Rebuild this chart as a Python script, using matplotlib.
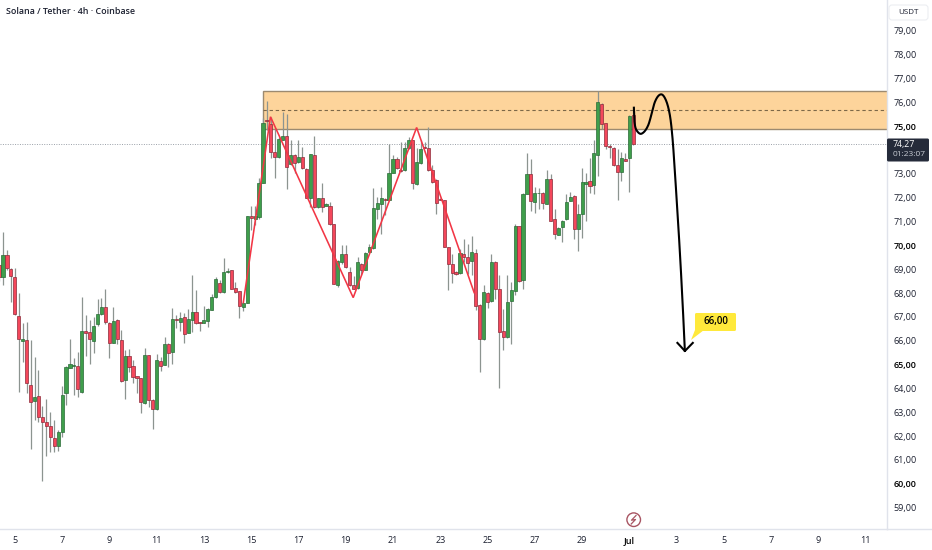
import matplotlib
matplotlib.use("Agg")
import matplotlib.pyplot as plt
import numpy as np
from matplotlib.patches import Circle, FancyBboxPatch, Polygon, Rectangle

plt.rcParams['font.family'] = ['Open Sans', 'DejaVu Sans']

# Candles, 4h, first one is cut by the left edge
opens = [69.18,68.69,69.60,69.03,68.69,67.05,65.97,66.03,64.13,63.48,
         63.69,62.82,62.61,62.43,61.91,61.59,62.15,63.79,64.84,64.94,
         64.94,63.85,66.39,66.35,65.97,66.70,67.14,67.43,66.73,65.92,
         66.87,66.03,64.36,65.36,64.95,64.50,64.43,63.37,65.40,63.51,
         63.12,65.15,64.99,65.85,65.53,66.90,66.80,66.98,66.34,66.87,
         67.22,66.77,66.76,66.83,67.30,67.85,68.44,68.05,68.89,68.96,
         68.21,68.09,67.40,67.60,71.23,71.13,71.19,72.63,75.26,75.08,
         73.92,73.71,74.42,74.60,73.40,73.79,73.50,73.73,73.22,71.97,
         73.79,71.61,72.00,71.66,71.65,70.91,68.36,69.31,69.62,68.88,
         68.36,68.22,69.24,68.97,69.73,69.91,71.55,71.72,71.94,71.91,
         73.06,73.61,73.17,73.16,74.07,74.42,72.56,73.45,74.13,74.11,
         73.16,72.75,71.94,71.90,69.95,69.21,68.89,68.85,69.66,69.53,
         69.35,69.69,67.50,66.08,68.02,67.67,69.32,68.19,66.40,66.16,
         67.67,68.08,70.81,68.57,72.17,73.01,71.84,72.21,72.21,71.75,
         72.77,71.09,70.44,70.77,71.09,71.87,72.08,70.67,71.31,72.59,
         72.70,72.53,73.79,75.95,75.12,74.17,74.11,73.37,73.09,73.64,
         73.69,75.47]
closes = [68.66,69.60,69.07,68.72,67.11,66.06,66.06,64.24,63.41,63.62,
          62.78,62.61,62.42,61.97,61.59,62.18,63.72,64.91,65.02,64.98,
          63.96,66.41,66.34,66.06,66.62,67.11,67.43,66.79,65.89,66.84,
          66.09,64.31,65.36,64.91,64.46,64.43,63.41,65.40,63.51,63.13,
          65.19,64.95,65.88,65.50,66.91,66.87,66.95,66.30,66.91,67.19,
          66.76,66.73,66.87,67.33,67.84,68.58,68.05,68.87,68.91,68.19,
          68.06,67.47,67.58,71.23,71.16,71.23,72.63,75.15,75.22,73.93,
          73.71,74.45,74.60,73.30,73.80,73.48,73.73,73.23,72.00,73.82,
          71.62,71.97,71.61,71.75,70.91,68.40,69.35,69.66,69.10,68.33,
          68.19,69.31,68.99,69.69,69.95,71.56,71.76,71.97,71.89,73.06,
          73.61,73.23,73.12,74.07,74.42,72.63,73.51,74.04,74.10,73.15,
          72.67,71.80,71.89,69.95,69.24,68.85,68.81,69.70,69.52,69.28,
          69.74,67.45,66.09,68.05,67.63,69.32,68.16,66.37,66.16,67.64,
          68.11,70.81,68.50,72.17,73.01,71.87,72.22,72.22,71.79,72.77,
          71.03,70.50,70.74,71.02,71.84,72.04,70.70,71.30,72.66,72.68,
          72.49,73.86,76.00,75.09,74.18,74.14,73.36,73.08,73.66,73.55,
          75.43,74.27]
highs = [69.20,70.58,69.81,69.04,69.04,68.02,66.73,66.77,66.03,65.33,
         64.77,63.26,63.54,63.00,62.67,62.25,64.11,64.95,66.06,65.26,
         65.51,67.85,67.08,66.87,67.01,67.75,67.78,68.16,66.80,67.40,
         66.90,66.45,65.61,65.64,65.19,64.52,64.43,65.68,65.40,63.55,
         65.43,65.33,66.14,65.89,67.36,67.08,67.19,67.18,67.32,68.76,
         68.13,66.80,67.46,67.36,67.95,68.66,68.55,69.49,69.07,68.96,
         68.48,68.10,67.64,71.24,71.66,71.66,72.81,75.33,76.06,75.40,
         74.91,74.56,75.58,75.50,74.42,73.82,74.42,74.14,73.23,73.82,
         74.59,72.00,72.60,71.76,71.83,70.91,69.38,70.01,70.01,69.10,
         68.72,69.52,69.27,69.73,70.08,72.42,72.04,72.46,71.97,74.24,
         73.79,73.72,74.35,74.35,74.56,74.42,74.07,74.42,74.35,74.95,
         73.37,72.78,71.97,71.90,69.95,69.66,68.92,69.87,70.26,70.04,
         70.40,69.87,67.56,68.36,68.05,69.62,69.35,68.75,67.32,68.75,
         68.47,70.92,70.81,72.20,73.86,73.62,72.46,72.42,72.25,73.16,
         72.98,71.55,70.78,71.06,72.15,72.25,72.11,71.72,73.27,73.06,
         73.65,74.42,76.48,75.96,75.15,74.24,74.13,74.03,73.93,73.86,
         75.47,75.78]
lows = [68.50,68.34,68.97,67.64,67.08,63.86,65.12,63.79,61.45,62.67,
        62.60,60.12,61.17,61.34,61.34,61.38,61.97,63.30,64.84,63.72,
        63.65,63.82,65.37,65.01,65.47,66.62,67.08,66.70,65.29,65.89,
        65.86,64.28,63.54,64.67,64.24,63.82,62.98,63.34,63.23,62.29,
        63.09,64.74,64.97,64.91,65.02,66.52,66.42,65.92,66.34,66.38,
        66.70,66.42,66.73,66.59,67.29,67.81,68.02,68.02,68.86,68.16,
        68.02,66.94,67.25,67.57,70.64,70.85,71.13,72.60,74.84,73.65,
        72.81,73.68,74.42,72.35,73.37,73.02,73.48,73.20,71.97,71.62,
        71.58,71.59,71.41,71.65,70.85,68.37,68.26,69.24,69.06,68.30,
        68.16,68.19,68.75,68.96,69.70,69.87,71.13,70.46,71.27,71.89,
        73.02,73.20,73.09,73.13,74.04,72.35,72.53,73.43,74.07,73.12,
        72.64,71.33,71.89,69.93,68.15,68.44,68.78,68.82,69.31,68.82,
        68.75,67.28,64.69,66.05,67.38,67.63,67.77,64.02,65.60,66.13,
        65.88,67.94,68.47,68.16,72.14,71.44,71.37,71.52,71.52,71.72,
        71.02,70.25,70.43,70.15,71.06,71.86,70.29,69.77,70.32,71.02,
        72.21,72.14,72.92,74.88,74.04,73.68,73.34,71.90,72.70,73.54,
        72.25,74.21]

# Axis labels
day_labels = ['5', '7', '9', '11', '13', '15', '17', '19', '21', '23', '25',
              '27', '29', 'Jul', '3', '5', '7', '9', '11']
price_ticks = [59, 60, 61, 62, 63, 64, 65, 66, 67, 68, 69, 70, 71, 72, 73, 75,
               76, 77, 78, 79]

# Drawings
zone_start, zone_top, zone_bottom, zone_mid = 66, 76.48, 74.88, 75.68
last_price = 74.27
zigzag_x = [61, 67.9, 88.9, 105, 119.6]
zigzag_y = [67.6, 75.40, 67.81, 74.95, 68.02]
path_x = [160.15, 160.3, 160.8, 162.1, 163.8, 165.5, 167.0, 168.27, 169.28, 169.96, 170.55, 171.15, 171.82, 172.5, 173.09]
path_y = [75.78, 75.19, 74.84, 74.69, 75.05, 76.03, 76.34, 76.10, 75.47, 74.49, 73.09, 71.55, 69.73, 67.63, 65.57]
arrow_x = [171.2, 173.1, 175.1]
arrow_y = [65.91, 65.57, 65.91]

# Styling
up_color = '#3f9e4b'
up_edge = '#2a6b38'
down_color = '#f4475b'
down_edge = '#8c2c3a'
wick_color = '#8c9490'
zone_color = '#fdd49b'
zone_edge = '#9c8a70'
text_color = '#1c2030'
strong_color = '#000000'
line_gray = '#e0e3eb'


def smooth(xs, ys, steps=16):
    # Catmull-Rom through the hand drawn points
    pts = np.column_stack([xs, ys])
    pts = np.vstack([pts[0], pts, pts[-1]])
    out = []
    for k in range(1, len(pts) - 2):
        p0, p1, p2, p3 = pts[k - 1], pts[k], pts[k + 1], pts[k + 2]
        for t in np.linspace(0, 1, steps, endpoint=False):
            out.append(0.5 * (2 * p1 + (p2 - p0) * t
                              + (2 * p0 - 5 * p1 + 4 * p2 - p3) * t ** 2
                              + (3 * p1 - p0 - 3 * p2 + p3) * t ** 3))
    out.append(pts[-1])
    return np.array(out)


fig = plt.figure(figsize=(9.32, 5.5), dpi=100, facecolor='white')
ax = fig.add_axes([0, 21 / 550, 887 / 932, 529 / 550])
ax.set_xlim(-0.76, 224.4)
ax.set_ylim(58.10, 80.30)

# Zone behind the candles
ax.add_patch(Rectangle((zone_start, zone_bottom), 300, zone_top - zone_bottom,
                       facecolor=zone_color, edgecolor=zone_edge, linewidth=1.0, zorder=1))
ax.hlines(zone_mid, zone_start, 300, colors='#7d6848', linestyles=(0, (3, 2.5)), linewidth=0.8, zorder=1.5)
ax.axhline(last_price, color='#9aa0a8', linestyle=(0, (1, 1.5)), linewidth=0.7, zorder=1.5)

o = np.array(opens)
c = np.array(closes)
idx = np.arange(len(o)) - 1
up = c >= o
colors = [up_color if u else down_color for u in up]
edges = [up_edge if u else down_edge for u in up]
ax.vlines(idx, lows, highs, colors=wick_color, linewidth=0.9, zorder=2)
ax.bar(idx, np.abs(c - o), bottom=np.minimum(o, c), width=0.8, color=colors,
       edgecolor=edges, linewidth=0.5, zorder=3)

ax.plot(zigzag_x, zigzag_y, color='#f23645', linewidth=1.15, zorder=4, solid_joinstyle='miter')

curve = smooth(path_x, path_y)
ax.plot(curve[:, 0], curve[:, 1], color='black', linewidth=1.5, zorder=5)
ax.plot(arrow_x, arrow_y, color='black', linewidth=1.5, zorder=5)

# Axes
for side in ['top', 'left']:
    ax.spines[side].set_visible(False)
for side in ['right', 'bottom']:
    ax.spines[side].set_color(line_gray)
    ax.spines[side].set_linewidth(1.0)
ax.yaxis.tick_right()
ax.set_yticks(price_ticks)
ax.set_yticklabels(['%d,00' % p for p in price_ticks])
ax.set_xticks(3 + 12 * np.arange(len(day_labels)))
ax.set_xticklabels(day_labels)
ax.tick_params(axis='both', length=0, labelsize=6.5, labelcolor=text_color)
ax.tick_params(axis='y', pad=4.5)
ax.tick_params(axis='x', pad=5)
for lab in ax.get_yticklabels():
    if lab.get_text()[:2] in ('60', '65', '70', '75'):
        lab.set_color(strong_color)
        lab.set_fontweight('semibold')
for lab in ax.get_xticklabels():
    if lab.get_text() == 'Jul':
        lab.set_color(strong_color)
        lab.set_fontweight('semibold')

# Overlay in figure pixels for the header, price tag, callout and icon
top = fig.add_axes([0, 0, 1, 1], facecolor='none')
top.set_xlim(0, 932)
top.set_ylim(550, 0)
top.axis('off')

top.plot([887, 932], [529, 529], color=line_gray, linewidth=1.0)

top.text(6, 12, 'Solana / Tether · 4h · Coinbase', fontsize=6.4, weight='semibold', color=text_color,
         ha='left', va='center')

top.add_patch(FancyBboxPatch((889, 5), 39, 15, boxstyle='round,pad=0,rounding_size=3',
                             facecolor='white', edgecolor='#eceef2', linewidth=0.8))
top.text(908.5, 12.5, 'USDT', fontsize=5.8, color=text_color, ha='center', va='center')

top.add_patch(FancyBboxPatch((887, 138.5), 42, 23, boxstyle='round,pad=0,rounding_size=1.5',
                             facecolor='#252b3a', edgecolor='none'))
top.text(892.5, 144.5, '74,27', fontsize=6.3, color='white', ha='left', va='center')
top.text(892.5, 155, '01:23:07', fontsize=6, color='#c8ccd4', ha='left', va='center')

top.add_patch(Polygon([[695, 330], [704, 330], [691, 340]], facecolor='#ffe93b', edgecolor='none'))
top.add_patch(FancyBboxPatch((695, 313), 41, 18, boxstyle='round,pad=0,rounding_size=1.5',
                             facecolor='#ffe93b', edgecolor='none'))
top.text(715.5, 321.5, '66,00', fontsize=7, weight='semibold', color='black', ha='center', va='center')

icon_color = '#a85563'
top.add_patch(Circle((633.7, 519.7), 6.8, facecolor='white', edgecolor=icon_color, linewidth=1.0))
top.plot([636, 631.5, 635.5, 631.2], [515.5, 520.2, 519.5, 524], color=icon_color, linewidth=0.9)

fig.savefig('out.png', dpi=100)
